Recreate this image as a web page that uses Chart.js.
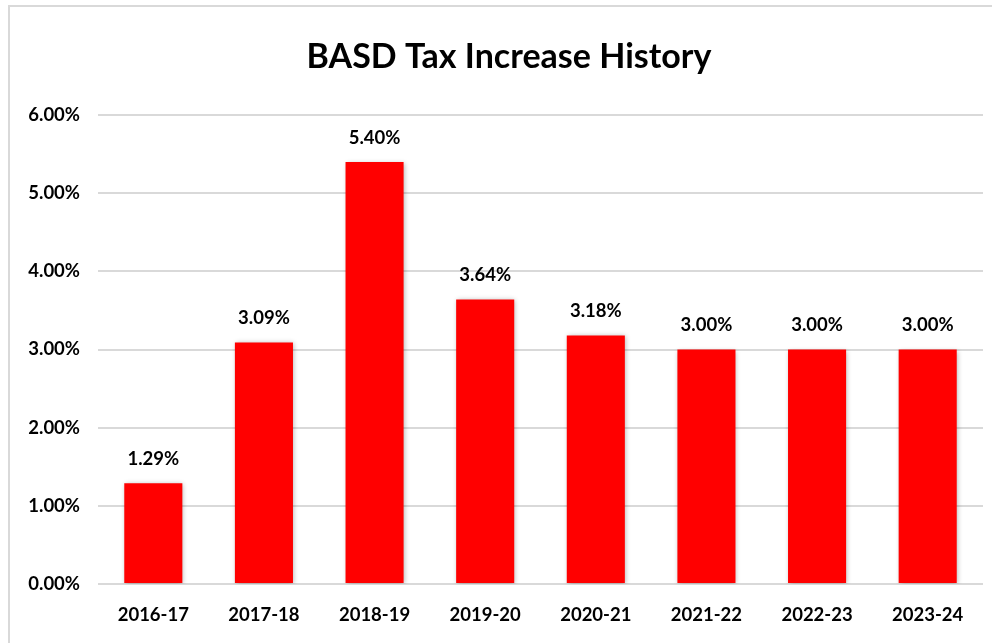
<!DOCTYPE html>
<html>
<head>
<meta charset="utf-8">
<script src="https://cdn.jsdelivr.net/npm/chart.js@4"></script>
<style>
  html, body { margin: 0; padding: 0; background: #fff; }
  #wrap { position: relative; width: 992px; height: 643px; overflow: hidden; }
  #frame {
    position: absolute; left: 8px; top: 5px; width: 1000px; height: 700px;
    border: 2px solid #d9d9d9; box-sizing: border-box; pointer-events: none;
  }
  canvas { position: absolute; left: 0; top: 0; }
</style>
</head>
<body>
<div id="wrap">
  <div id="frame"></div>
  <canvas id="tax-chart" width="992" height="643"></canvas>
</div>
<script>
const years = ["2016-17", "2017-18", "2018-19", "2019-20", "2020-21", "2021-22", "2022-23", "2023-24"];
const increases = [1.29, 3.09, 5.40, 3.64, 3.18, 3.00, 3.00, 3.00];
const yTicks = [0, 1, 2, 3, 4, 5, 6];
const chartTitle = "BASD Tax Increase History";

const FONT = "Lato, 'Open Sans', sans-serif";

// title sits a bit right of the canvas centre in the original
const titleText = {
  id: "titleText",
  afterDraw(chart) {
    const ctx = chart.ctx;
    ctx.save();
    ctx.font = "bold 34px " + FONT;
    ctx.fillStyle = "#000";
    ctx.textAlign = "center";
    ctx.textBaseline = "middle";
    ctx.fillText(chartTitle, 509, 57);
    ctx.restore();
  },
};

// labels above each bar, placed from the bar elements
const barLabels = {
  id: "barLabels",
  afterDatasetsDraw(chart) {
    const ctx = chart.ctx;
    const meta = chart.getDatasetMeta(0);
    ctx.save();
    ctx.font = "bold 18.5px " + FONT;
    ctx.fillStyle = "#000";
    ctx.textAlign = "center";
    ctx.textBaseline = "middle";
    meta.data.forEach((bar, i) => {
      ctx.fillText(increases[i].toFixed(2) + "%", bar.x, bar.y - 24);
    });
    ctx.restore();
  },
};

// soft shadow under the bars
const barShadow = {
  id: "barShadow",
  beforeDatasetsDraw(chart) {
    const ctx = chart.ctx;
    ctx.save();
    ctx.shadowColor = "rgba(0,0,0,0.3)";
    ctx.shadowBlur = 5;
    ctx.shadowOffsetX = 1;
    ctx.shadowOffsetY = 1;
  },
  afterDatasetsDraw(chart) {
    chart.ctx.restore();
  },
};

new Chart(document.getElementById("tax-chart"), {
  type: "bar",
  data: {
    labels: years,
    datasets: [
      {
        data: increases,
        backgroundColor: "#ff0000",
        borderWidth: 0,
        barPercentage: 0.525,
        categoryPercentage: 1,
      },
    ],
  },
  options: {
    responsive: false,
    animation: false,
    layout: { padding: { left: 0, right: 9, top: 115, bottom: 0 } },
    plugins: {
      legend: { display: false },
      tooltip: { enabled: false },
      title: { display: false },
    },
    scales: {
      x: {
        grid: { display: false },
        border: { display: false },
        ticks: {
          color: "#000",
          padding: 12,
          font: { family: FONT, size: 18.5, weight: "bold" },
        },
        afterFit(scale) {
          scale.height = 59;
        },
      },
      y: {
        min: 0,
        max: 6,
        afterBuildTicks(scale) {
          scale.ticks = yTicks.map((v) => ({ value: v }));
        },
        grid: { color: "#d9d9d9", lineWidth: 2, drawTicks: false },
        border: { display: false },
        ticks: {
          color: "#000",
          padding: 18,
          font: { family: FONT, size: 18.5, weight: "bold" },
          callback: (v) => v.toFixed(2) + "%",
        },
        afterFit(scale) {
          scale.width = 98;
        },
      },
    },
  },
  plugins: [barShadow, barLabels, titleText],
});
</script>
</body>
</html>
